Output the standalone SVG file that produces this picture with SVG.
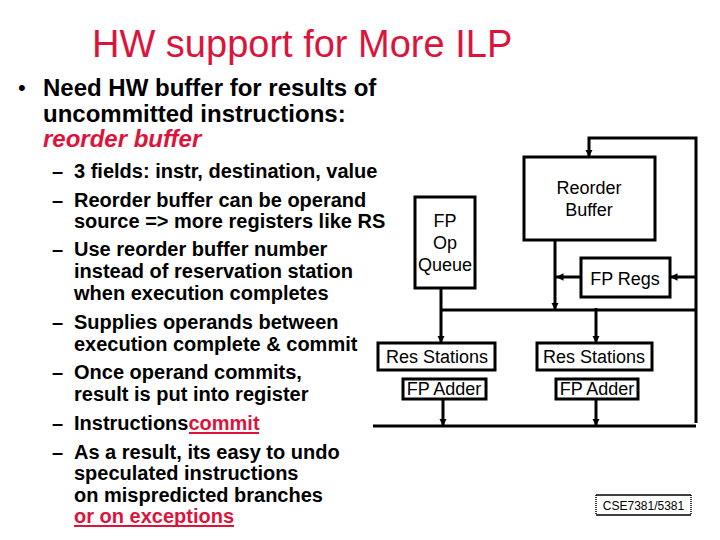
<svg xmlns="http://www.w3.org/2000/svg" width="720" height="540" viewBox="0 0 720 540">
<defs>
<style>
.t{font-family:"Liberation Sans",Arial,sans-serif;fill:#000}
.red{fill:#dc143c}
.b{font-weight:bold}
.sub{font-size:20px;font-weight:bold}
.box{fill:#fff;stroke:#000;stroke-width:3}
.lbl{font-size:18px;text-anchor:middle}
.w{fill:none;stroke:#000;stroke-width:3}
.ul{stroke:#dc143c;stroke-width:2}
</style>
<marker id="ah" viewBox="0 0 10 10" refX="10" refY="5" markerWidth="2.5" markerHeight="2.5" orient="auto" markerUnits="strokeWidth">
<path d="M0,0 L10,5 L0,10 Z" fill="#000"/>
</marker>
</defs>
<rect width="720" height="540" fill="#fff"/>

<text class="t red" x="92" y="57" font-size="38">HW support for More ILP</text>

<g id="text">
<text class="t" x="18" y="95" font-size="22">•</text>
<text class="t b" x="43" y="96" font-size="24">Need HW buffer for results of</text>
<text class="t b" x="43" y="122" font-size="24">uncommitted instructions:</text>
<text class="t b red" x="43" y="147" font-size="24" font-style="italic">reorder buffer</text>

<g class="sub">
<text class="t sub" x="52" y="178">–</text><text class="t sub" x="74" y="178">3 fields: instr, destination, value</text>
<text class="t sub" x="52" y="207">–</text><text class="t sub" x="74" y="207">Reorder buffer can be operand</text>
<text class="t sub" x="74" y="228">source =&gt; more registers like RS</text>
<text class="t sub" x="52" y="256">–</text><text class="t sub" x="74" y="256">Use reorder buffer number</text>
<text class="t sub" x="74" y="278">instead of reservation station</text>
<text class="t sub" x="74" y="300">when execution completes</text>
<text class="t sub" x="52" y="329">–</text><text class="t sub" x="74" y="329">Supplies operands between</text>
<text class="t sub" x="74" y="351">execution complete &amp; commit</text>
<text class="t sub" x="52" y="379">–</text><text class="t sub" x="74" y="379">Once operand commits,</text>
<text class="t sub" x="74" y="401">result is put into register</text>
<text class="t sub" x="52" y="430">–</text><text class="t sub" x="74" y="430">Instructions<tspan class="red">commit</tspan></text>
<line class="ul" x1="189" y1="433" x2="259" y2="433"/>
<text class="t sub" x="52" y="459">–</text><text class="t sub" x="74" y="459">As a result, its easy to undo</text>
<text class="t sub" x="74" y="480">speculated instructions</text>
<text class="t sub" x="74" y="502">on mispredicted branches</text>
<text class="t sub red" x="74" y="523">or on exceptions</text>
<line class="ul" x1="74" y1="526" x2="234" y2="526"/>
</g>
</g>

<g id="connectors">
<polyline class="w" points="696,423 696,138 589,138 589,157" marker-end="url(#ah)"/>
<line class="w" x1="696" y1="277" x2="670" y2="277" marker-end="url(#ah)"/>
<line class="w" x1="581" y1="277" x2="556" y2="277" marker-end="url(#ah)"/>
<line class="w" x1="555" y1="240" x2="555" y2="310" marker-end="url(#ah)"/>
<line class="w" x1="441" y1="310" x2="696" y2="310"/>
<line class="w" x1="441" y1="288" x2="441" y2="343" marker-end="url(#ah)"/>
<line class="w" x1="596" y1="308" x2="596" y2="343" marker-end="url(#ah)"/>
<line class="w" x1="373" y1="426" x2="696" y2="426"/>
<line class="w" x1="443" y1="399" x2="443" y2="426" marker-end="url(#ah)"/>
<line class="w" x1="596" y1="399" x2="596" y2="426" marker-end="url(#ah)"/>
</g>

<g id="rob">
<rect class="box" x="524" y="157" width="131" height="83"/>
<text class="t lbl" x="589" y="194">Reorder</text>
<text class="t lbl" x="589" y="216">Buffer</text>
</g>
<g id="fpq">
<rect class="box" x="415" y="197" width="60" height="91"/>
<text class="t lbl" x="445" y="227">FP</text>
<text class="t lbl" x="445" y="249">Op</text>
<text class="t lbl" x="445" y="271">Queue</text>
</g>
<g id="fpregs">
<rect class="box" x="581" y="258" width="89" height="39"/>
<text class="t lbl" x="625" y="285">FP Regs</text>
</g>
<g id="rs1">
<rect class="box" x="378" y="343" width="117" height="27"/>
<text class="t lbl" x="437" y="363">Res Stations</text>
</g>
<g id="rs2">
<rect class="box" x="537" y="343" width="115" height="27"/>
<text class="t lbl" x="594" y="363">Res Stations</text>
</g>
<g id="add1">
<rect class="box" x="403" y="379" width="83" height="20"/>
<text class="t lbl" x="444" y="395">FP Adder</text>
</g>
<g id="add2">
<rect class="box" x="556" y="379" width="82" height="20"/>
<text class="t lbl" x="597" y="395">FP Adder</text>
</g>

<g id="footer">
<line x1="596" y1="495" x2="691" y2="495" stroke="#000" stroke-width="1.5"/>
<line x1="596" y1="515" x2="691" y2="515" stroke="#000" stroke-width="1.5"/>
<line x1="596" y1="495" x2="596" y2="515" stroke="#000" stroke-width="1.5" stroke-dasharray="1,1"/>
<line x1="691" y1="495" x2="691" y2="515" stroke="#000" stroke-width="1.5" stroke-dasharray="1,1"/>
<text class="t" x="643.5" y="510" font-size="12" text-anchor="middle">CSE7381/5381</text>
</g>
</svg>
